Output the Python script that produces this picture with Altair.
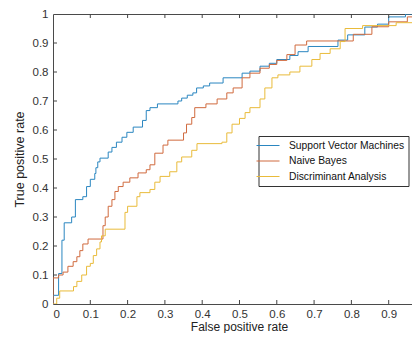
import altair as alt
import pandas as pd

models = ["Support Vector Machines", "Naive Bayes", "Discriminant Analysis"]
colors = ["#2a86c0", "#d06a3e", "#e9bb3a"]

svm_fpr = [0, 0, 0.015, 0.024, 0.03, 0.05, 0.06, 0.08, 0.09, 0.1, 0.112, 0.115, 0.12, 0.126,
           0.148, 0.158, 0.17, 0.185, 0.198, 0.215, 0.24, 0.25, 0.26, 0.28, 0.335, 0.345, 0.36,
           0.375, 0.385, 0.403, 0.42, 0.456, 0.507, 0.528, 0.555, 0.58, 0.6, 0.635, 0.657, 0.684,
           0.764, 0.79, 0.836, 0.87, 0.9, 0.945, 1.0]
svm_tpr = [0, 0.03, 0.105, 0.22, 0.28, 0.30, 0.36, 0.37, 0.405, 0.43, 0.45, 0.47, 0.49, 0.503,
           0.524, 0.54, 0.558, 0.575, 0.592, 0.61, 0.633, 0.667, 0.677, 0.69, 0.70, 0.71, 0.72,
           0.728, 0.745, 0.752, 0.762, 0.78, 0.796, 0.803, 0.82, 0.83, 0.843, 0.857, 0.87, 0.888,
           0.91, 0.928, 0.955, 0.965, 0.99, 1.0, 1.0]

nb_fpr = [0, 0, 0.015, 0.027, 0.04, 0.054, 0.064, 0.072, 0.08, 0.094, 0.134, 0.14, 0.148, 0.158,
          0.166, 0.175, 0.188, 0.206, 0.228, 0.25, 0.26, 0.273, 0.295, 0.308, 0.35, 0.358, 0.372,
          0.38, 0.41, 0.44, 0.466, 0.483, 0.507, 0.528, 0.555, 0.58, 0.6, 0.627, 0.649, 0.68,
          0.805, 0.855, 0.9, 0.95, 0.97, 1.0]
nb_tpr = [0, 0.09, 0.1, 0.11, 0.13, 0.146, 0.163, 0.184, 0.207, 0.224, 0.27, 0.30, 0.337, 0.36,
          0.388, 0.405, 0.42, 0.435, 0.452, 0.463, 0.48, 0.52, 0.548, 0.565, 0.59, 0.62, 0.643,
          0.677, 0.69, 0.707, 0.728, 0.745, 0.78, 0.796, 0.813, 0.826, 0.84, 0.86, 0.893, 0.907,
          0.93, 0.956, 0.973, 0.99, 1.0, 1.0]

da_fpr = [0, 0.01, 0.018, 0.055, 0.064, 0.077, 0.09, 0.1, 0.108, 0.117, 0.126, 0.13, 0.14, 0.193,
          0.2, 0.225, 0.233, 0.26, 0.273, 0.287, 0.313, 0.332, 0.345, 0.372, 0.386, 0.453, 0.466,
          0.48, 0.5, 0.515, 0.528, 0.555, 0.568, 0.587, 0.603, 0.635, 0.662, 0.694, 0.716, 0.743,
          0.77, 0.783, 0.83, 0.92, 0.97, 1.0]
da_tpr = [0, 0.02, 0.045, 0.06, 0.078, 0.1, 0.13, 0.14, 0.167, 0.19, 0.214, 0.235, 0.258, 0.316,
          0.337, 0.37, 0.384, 0.395, 0.42, 0.44, 0.456, 0.49, 0.507, 0.53, 0.553, 0.558, 0.59,
          0.62, 0.64, 0.66, 0.677, 0.707, 0.745, 0.78, 0.79, 0.80, 0.82, 0.843, 0.864, 0.88,
          0.905, 0.95, 0.96, 0.97, 0.99, 1.0]

x_ticks = [0, 0.1, 0.2, 0.3, 0.4, 0.5, 0.6, 0.7, 0.8, 0.9]
y_ticks = [0, 0.1, 0.2, 0.3, 0.4, 0.5, 0.6, 0.7, 0.8, 0.9, 1]
x_inner = [0.1, 0.2, 0.3, 0.4, 0.5, 0.6, 0.7, 0.8, 0.9]
y_inner = [0.1, 0.2, 0.3, 0.4, 0.5, 0.6, 0.7, 0.8, 0.9]

rows = []
for name, xs, ys in zip(models, [svm_fpr, nb_fpr, da_fpr], [svm_tpr, nb_tpr, da_tpr]):
    for i, (x, y) in enumerate(zip(xs, ys)):
        rows.append({"model": name, "fpr": x, "tpr": y, "order": i})
df = pd.DataFrame(rows)

W, H = 359, 290
FONT = "Liberation Sans"
xscale = alt.Scale(domain=[0, 0.9625], nice=False, zero=False)
yscale = alt.Scale(domain=[0, 1], nice=False)

lines = alt.Chart(df).mark_line(interpolate="step-after", strokeWidth=1, clip=True).encode(
    x=alt.X("fpr:Q", scale=xscale,
            axis=alt.Axis(values=x_ticks, format="~g", title="False positive rate",
                          titleX=186, titleY=26, titleBaseline="alphabetic",
                          titleFontSize=12, labelOverlap=False, labelPadding=4)),
    y=alt.Y("tpr:Q", scale=yscale,
            axis=alt.Axis(values=y_ticks, format="~g", title="True positive rate",
                          titlePadding=6, labelOverlap=False)),
    color=alt.Color("model:N", scale=alt.Scale(domain=models, range=colors),
                    legend=alt.Legend(title=None, orient="none", legendX=205.5, legendY=122,
                                      symbolType="M-2.3,0H2.3", symbolSize=100,
                                      symbolStrokeWidth=1, symbolFillColor="transparent",
                                      labelFontSize=10.3, labelFont=FONT, labelColor="#111",
                                      labelOffset=15.5, rowPadding=4.5, padding=4,
                                      strokeColor="#333", fillColor="white")),
    order="order:Q",
)

xt = pd.DataFrame({"v": x_inner})
yt = pd.DataFrame({"v": y_inner})
tick_color = "#444"

bottom_ticks = alt.Chart(xt).mark_rule(color=tick_color, strokeWidth=1).encode(
    x=alt.X("v:Q", scale=xscale, axis=None), y=alt.value(H), y2=alt.value(H - 4))
top_ticks = alt.Chart(xt).mark_rule(color=tick_color, strokeWidth=1).encode(
    x=alt.X("v:Q", scale=xscale,
            axis=alt.Axis(orient="top", labels=False, ticks=False, title=None)),
    y=alt.value(0), y2=alt.value(4))
left_ticks = alt.Chart(yt).mark_rule(color=tick_color, strokeWidth=1).encode(
    y=alt.Y("v:Q", scale=yscale, axis=None), x=alt.value(0), x2=alt.value(4))

chart = alt.layer(lines, bottom_ticks, left_ticks, top_ticks).resolve_axis(
    x="independent", y="independent"
).properties(
    width=W, height=H,
    autosize=alt.AutoSizeParams(type="none"),
    padding={"left": 45, "top": 6, "right": 0, "bottom": 29},
).configure_view(stroke=None).configure_axis(
    grid=False, ticks=False, domainColor="#4a4a4a", domainWidth=1,
    labelFont=FONT, labelFontSize=11.5, labelColor="#333", labelPadding=5,
    titleFont=FONT, titleFontSize=12.5, titleFontWeight="normal", titleColor="#222",
)

chart.save("out.html", embed_options={"renderer": "svg", "actions": False})
